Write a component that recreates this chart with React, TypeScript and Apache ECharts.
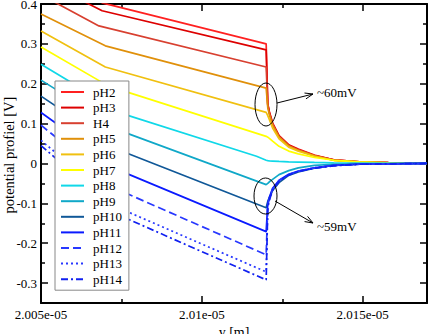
import React, { useEffect, useRef } from "react";
import * as echarts from "echarts";

// ---- axis values (y [m] in units of 1e-5 m) ----
const X_MIN = 2.005;
const X_MAX = 2.017;
const Y_MIN = -0.35;
const Y_MAX = 0.4;
const X_MAJOR = [2.005, 2.01, 2.015];
const X_MINOR = [2.0075, 2.0125];
const Y_MAJOR = [-0.3, -0.2, -0.1, 0, 0.1, 0.2, 0.3, 0.4];
const Y_MINOR = [-0.35, -0.25, -0.15, -0.05, 0.05, 0.15, 0.25, 0.35];
const Y_TITLE = "potential profiel [V]";
const X_TITLE = "y [m]";

// ---- series ----
const NAMES = ["pH2", "pH3", "H4", "pH5", "pH6", "pH7", "pH8", "pH9", "pH10", "pH11", "pH12", "pH13", "pH14"];

// x positions of the points after the interface (shared by every curve)
const X_DECAY = [2.012, 2.01205, 2.0121, 2.0122, 2.0124, 2.0127, 2.013, 2.0135, 2.0141, 2.0149, 2.0158, 2.017];

// points before the interface: [x, potential]
const PH2_HEAD = [[2.005, 0.48], [2.0069, 0.403]];
const PH3_HEAD = [[2.005, 0.461], [2.0069, 0.383]];
const H4_HEAD = [[2.005, 0.423], [2.0068, 0.345]];
const PH5_HEAD = [[2.005, 0.375], [2.007, 0.295]];
const PH6_HEAD = [[2.005, 0.332], [2.007, 0.242]];
const PH7_HEAD = [[2.005, 0.292], [2.0071, 0.194]];
const PH8_HEAD = [[2.005, 0.249], [2.0076, 0.123], [2.0117, 0.018]];
const PH9_HEAD = [[2.005, 0.209], [2.0076, 0.078]];
const PH10_HEAD = [[2.005, 0.169], [2.0076, 0.028]];
const PH11_HEAD = [[2.005, 0.128], [2.0076, -0.023]];
const PH12_HEAD = [[2.005, 0.096], [2.0076, -0.073]];
const PH13_HEAD = [[2.005, 0.058], [2.0076, -0.118]];
const PH14_HEAD = [[2.005, 0.045], [2.0076, -0.136]];

// potentials at X_DECAY
const PH2_DECAY = [0.3, 0.15, 0.13, 0.102, 0.07, 0.047, 0.036, 0.021, 0.009, 0.004, 0.002, 0];
const PH3_DECAY = [0.285, 0.148, 0.128, 0.1, 0.069, 0.046, 0.035, 0.02, 0.009, 0.004, 0.002, 0];
const H4_DECAY = [0.242, 0.146, 0.126, 0.099, 0.068, 0.045, 0.034, 0.02, 0.009, 0.004, 0.002, 0];
const PH5_DECAY = [0.189, 0.14, 0.122, 0.096, 0.066, 0.044, 0.033, 0.019, 0.008, 0.0035, 0.0015, 0];
const PH6_DECAY = [0.128, 0.12, 0.11, 0.089, 0.062, 0.041, 0.031, 0.018, 0.008, 0.003, 0.0013, 0];
const PH7_DECAY = [0.068, 0.066, 0.063, 0.056, 0.043, 0.031, 0.024, 0.015, 0.008, 0.004, 0.0015, 0];
const PH8_DECAY = [0.008, 0.007, 0.0065, 0.006, 0.005, 0.004, 0.0035, 0.0025, 0.0015, 0.001, 0.0005, 0];
const PH9_DECAY = [-0.053, -0.05, -0.046, -0.04, -0.028, -0.018, -0.011, -0.005, -0.002, -0.001, -0.0005, 0];
const PH10_DECAY = [-0.111, -0.095, -0.085, -0.068, -0.048, -0.03, -0.021, -0.012, -0.005, -0.002, -0.001, 0];
const PH11_DECAY = [-0.171, -0.1, -0.085, -0.062, -0.042, -0.027, -0.019, -0.011, -0.005, -0.002, -0.001, 0];
const PH12_DECAY = [-0.229, -0.105, -0.088, -0.064, -0.043, -0.028, -0.019, -0.011, -0.005, -0.002, -0.001, 0];
const PH13_DECAY = [-0.272, -0.108, -0.09, -0.066, -0.044, -0.028, -0.02, -0.011, -0.005, -0.002, -0.001, 0];
const PH14_DECAY = [-0.292, -0.11, -0.092, -0.067, -0.045, -0.029, -0.02, -0.012, -0.006, -0.002, -0.001, 0];

const HEADS = [PH2_HEAD, PH3_HEAD, H4_HEAD, PH5_HEAD, PH6_HEAD, PH7_HEAD, PH8_HEAD, PH9_HEAD, PH10_HEAD, PH11_HEAD, PH12_HEAD, PH13_HEAD, PH14_HEAD];
const DECAYS = [PH2_DECAY, PH3_DECAY, H4_DECAY, PH5_DECAY, PH6_DECAY, PH7_DECAY, PH8_DECAY, PH9_DECAY, PH10_DECAY, PH11_DECAY, PH12_DECAY, PH13_DECAY, PH14_DECAY];

// ---- styles ----
const COLORS = ["#ff2020", "#dd0000", "#d84030", "#e0900a", "#f0c010", "#ffff00", "#10d8e8", "#10a8c8", "#105898", "#0a1aff", "#2838ff", "#2838ff", "#1020f0"];
const DASHES: any[] = ["solid", "solid", "solid", "solid", "solid", "solid", "solid", "solid", "solid", "solid", [8, 4], [2, 3], [7, 3, 2, 3]];

const FONT = '"Liberation Serif", "Times New Roman", "DejaVu Serif", serif';

function xAxis(position: string, ticks: number[], len: number, line: boolean, label: boolean) {
  return {
    type: "value",
    min: X_MIN,
    max: X_MAX,
    position,
    axisLine: { show: line, onZero: false, lineStyle: { color: "#000", width: 2 } },
    axisTick: { show: true, inside: true, length: len, customValues: ticks, lineStyle: { color: "#000", width: 1.5 } },
    axisLabel: label
      ? {
          show: true,
          customValues: X_MAJOR,
          formatter: (v: number) => Number(v.toFixed(4)) + "e-05",
          fontFamily: FONT,
          fontSize: 13,
          color: "#000",
          margin: 5,
        }
      : { show: false },
    splitLine: { show: false },
    ...(label
      ? {
          name: X_TITLE,
          nameLocation: "middle",
          nameGap: 22,
          nameTextStyle: { fontFamily: FONT, fontSize: 14, color: "#000", verticalAlign: "middle", lineHeight: 14 },
        }
      : {}),
  };
}

function yAxis(position: string, ticks: number[], len: number, line: boolean, label: boolean) {
  return {
    type: "value",
    min: Y_MIN,
    max: Y_MAX,
    position,
    axisLine: { show: line, onZero: false, lineStyle: { color: "#000", width: 2 } },
    axisTick: { show: true, inside: true, length: len, customValues: ticks, lineStyle: { color: "#000", width: 1.5 } },
    axisLabel: label
      ? {
          show: true,
          customValues: Y_MAJOR,
          formatter: (v: number) => String(Number(v.toFixed(2))),
          fontFamily: FONT,
          fontSize: 13,
          color: "#000",
          margin: 4,
        }
      : { show: false },
    splitLine: { show: false },
  };
}

function arrow(x1: number, y1: number, x2: number, y2: number) {
  const dx = x2 - x1;
  const dy = y2 - y1;
  const L = Math.sqrt(dx * dx + dy * dy);
  const ux = dx / L;
  const uy = dy / L;
  const bx = x2 - ux * 8;
  const by = y2 - uy * 8;
  const nx = -uy * 3;
  const ny = ux * 3;
  return [
    { type: "line", shape: { x1, y1, x2, y2 }, style: { stroke: "#000", lineWidth: 1 }, z: 100 },
    {
      type: "polyline",
      shape: { points: [[bx + nx, by + ny], [x2, y2], [bx - nx, by - ny]] },
      style: { stroke: "#000", fill: "none", lineWidth: 1 },
      z: 100,
    },
  ];
}

export default function App() {
  const ref = useRef<HTMLDivElement>(null);
  useEffect(() => {
    if (!ref.current) return;
    const chart = echarts.init(ref.current, undefined, { renderer: "svg" });
    const series = NAMES.map((name, i) => ({
      name,
      type: "line",
      xAxisIndex: 0,
      yAxisIndex: 0,
      symbol: "none",
      showSymbol: false,
      silent: true,
      clip: true,
      data: (HEADS[i] as number[][]).concat(X_DECAY.map((x, j) => [x, DECAYS[i][j]])),
      lineStyle: { color: COLORS[i], width: 1.7, type: DASHES[i] },
      itemStyle: { color: COLORS[i] },
    }));
    chart.setOption({
      animation: false,
      textStyle: { fontFamily: FONT },
      grid: { left: 41, right: 2, top: 4, bottom: 31, containLabel: false, outerBoundsMode: "none" },
      xAxis: [
        xAxis("bottom", X_MAJOR, 7, true, true),
        xAxis("bottom", X_MINOR, 4, false, false),
        xAxis("top", X_MAJOR, 7, true, false),
        xAxis("top", X_MINOR, 4, false, false),
      ],
      yAxis: [
        yAxis("left", Y_MAJOR, 7, true, true),
        yAxis("left", Y_MINOR, 4, false, false),
        yAxis("right", Y_MAJOR, 7, true, false),
        yAxis("right", Y_MINOR, 4, false, false),
      ],
      legend: {
        orient: "vertical",
        left: 55,
        top: 81,
        backgroundColor: "#fff",
        borderColor: "#888",
        borderWidth: 1,
        padding: [4, 7, 4, 5],
        itemWidth: 23,
        itemHeight: 10,
        itemGap: 1.6,
        itemStyle: { color: "rgba(0,0,0,0)", borderColor: "rgba(0,0,0,0)", borderWidth: 0 },
        lineStyle: { width: 2 },
        textStyle: { fontFamily: FONT, fontSize: 13, color: "#000", lineHeight: 14, padding: [0, 0, 0, 4] },
        data: NAMES,
      },
      graphic: [
        {
          type: "text",
          x: 9,
          y: 155,
          rotation: Math.PI / 2,
          style: { text: Y_TITLE, fontFamily: FONT, fontSize: 14.5, fill: "#000", align: "center", verticalAlign: "middle" },
          z: 100,
        },
        { type: "ellipse", shape: { cx: 266, cy: 104.5, rx: 11, ry: 21.5 }, style: { stroke: "#000", fill: "none", lineWidth: 1 }, z: 100 },
        { type: "ellipse", shape: { cx: 265.5, cy: 196, rx: 11.5, ry: 18 }, style: { stroke: "#000", fill: "none", lineWidth: 1 }, z: 100 },
        ...arrow(277, 103, 313, 94),
        ...arrow(275, 201, 313, 223),
        { type: "text", x: 317, y: 92, style: { text: "~60mV", fontFamily: FONT, fontSize: 13, fill: "#000", verticalAlign: "middle" }, z: 100 },
        { type: "text", x: 317, y: 226, style: { text: "~59mV", fontFamily: FONT, fontSize: 13, fill: "#000", verticalAlign: "middle" }, z: 100 },
      ],
      series,
    });
    return () => chart.dispose();
  }, []);
  return <div ref={ref} style={{ position: "fixed", left: 0, top: 0, width: 429, height: 334, background: "#fff" }} />;
}
